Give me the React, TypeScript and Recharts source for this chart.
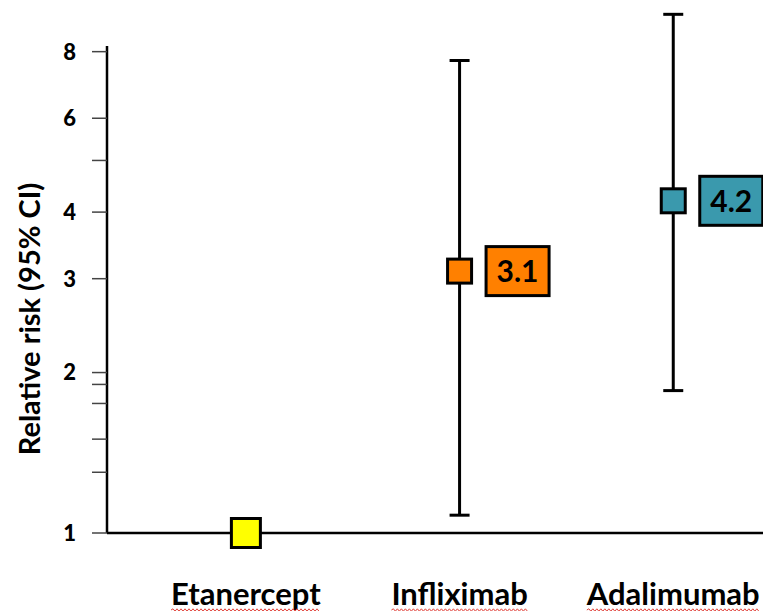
import { ScatterChart, Scatter, XAxis, YAxis, ErrorBar, ReferenceLine } from "recharts";

const drugs = ["Etanercept", "Infliximab", "Adalimumab"];
const relativeRisk = [1, 3.1, 4.2];
const ciLower = [1, 1.08, 1.85];
const ciUpper = [1, 7.7, 9.4];
const valueLabels = ["", "3.1", "4.2"];
const yTicks = [1, 1.3, 1.5, 1.75, 1.9, 2, 3, 4, 5, 6, 8];
const yTickLabels = [1, 2, 3, 4, 6, 8];

const markStyle: Record<string, { fill: string; size: number }> = {
  Etanercept: { fill: "#FFFF00", size: 29 },
  Infliximab: { fill: "#FF8000", size: 24 },
  Adalimumab: { fill: "#3A99AD", size: 24 },
};

const data = drugs.map((name, i) => ({
  pos: i + 1,
  name,
  rr: relativeRisk[i],
  ci: [relativeRisk[i] - ciLower[i], ciUpper[i] - relativeRisk[i]],
  label: valueLabels[i],
}));

const FONT = "Lato, 'Open Sans', sans-serif";

function textWidth(txt: string, font: string) {
  const c = document.createElement("canvas").getContext("2d");
  if (!c) return txt.length * 15;
  c.font = font;
  return c.measureText(txt).width;
}

function PointShape(props: any) {
  const { cx, cy, payload } = props;
  const st = markStyle[payload.name];
  const s = st.size;
  return (
    <g>
      <rect x={cx - s / 2} y={cy - s / 2} width={s} height={s} fill={st.fill} stroke="#000" strokeWidth={3} />
      {payload.label && (
        <g>
          <rect x={cx + 26.5} y={cy - 24.5} width={63} height={49} fill={st.fill} stroke="#000" strokeWidth={3} />
          <text
            x={cx + 58}
            y={cy}
            dy="0.36em"
            textAnchor="middle"
            fontFamily={FONT}
            fontWeight={700}
            fontSize={30}
            fill="#000"
          >
            {payload.label}
          </text>
        </g>
      )}
    </g>
  );
}

function DrugTick(props: any) {
  const { x, y, payload } = props;
  const name = drugs[payload.value - 1];
  const w = textWidth(name, "700 31px Lato");
  const base = y + 72;
  let d = `M${x - w / 2},${base + 5}`;
  for (let t = 2; t <= w; t += 2) {
    d += ` L${x - w / 2 + t},${base + 5 + ((t / 2) % 2 === 1 ? -1.2 : 1.2)}`;
  }
  return (
    <g>
      <text x={x} y={base} textAnchor="middle" fontFamily={FONT} fontWeight={700} fontSize={31} fill="#000">
        {name}
      </text>
      <path d={d} fill="none" stroke="#e0413a" strokeWidth={1} />
    </g>
  );
}

function renderRiskTick(props: any) {
  const { x, y, payload } = props;
  if (!yTickLabels.includes(payload.value)) return <g />;
  return (
    <text
      x={x}
      y={y}
      dy="0.36em"
      textAnchor="end"
      style={{ fontFamily: FONT, fontWeight: 900, fontSize: "22px" }}
      fill="#000"
    >
      {payload.value}
    </text>
  );
}

export default function App() {
  return (
    <div>
      <style>{"body{margin:0;overflow:hidden}"}</style>
      <ScatterChart width={763} height={611} margin={{ top: 0, right: 0, bottom: 0, left: 0 }}>
        <XAxis
          type="number"
          dataKey="pos"
          domain={[0.35, 3.42]}
          ticks={[1, 2, 3]}
          height={78}
          tickLine={false}
          tickSize={0}
          tickMargin={0}
          tick={<DrugTick />}
          axisLine={{ stroke: "#000", strokeWidth: 2.5 }}
        />
        <YAxis
          type="number"
          dataKey="rr"
          scale="log"
          domain={[1, 10]}
          ticks={yTicks}
          interval={0}
          width={107}
          axisLine={false}
          tickSize={15}
          tickMargin={16}
          tickLine={{ stroke: "#444", strokeWidth: 1.5 }}
          tick={renderRiskTick}
          label={{
            value: "Relative risk (95% CI)",
            content: () => (
              <text
                transform="translate(30,319) rotate(-90)"
                textAnchor="middle"
                dy="0.36em"
                fontFamily={FONT}
                fontWeight={700}
                fontSize={29}
                fill="#000"
              >
                Relative risk (95% CI)
              </text>
            ),
          }}
        />
        <ReferenceLine
          segment={[
            { x: 0.35, y: 1 },
            { x: 0.35, y: 8.2 },
          ]}
          stroke="#000"
          strokeWidth={2.5}
          ifOverflow="visible"
        />
        <Scatter data={data} shape={<PointShape />} isAnimationActive={false}>
          <ErrorBar dataKey="ci" direction="y" width={10} stroke="#000" strokeWidth={3} />
        </Scatter>
      </ScatterChart>
    </div>
  );
}
